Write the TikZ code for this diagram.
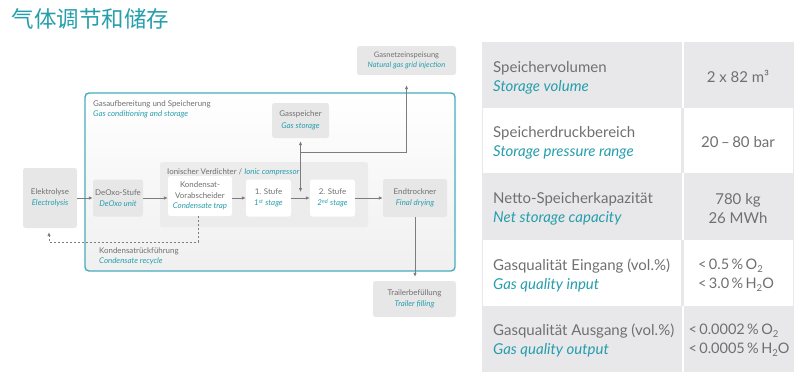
\documentclass[tikz,border=0pt]{standalone}
\usepackage{fontspec}
\setmainfont{Lato}
\newfontfamily\cjk{Noto Sans CJK SC}
\usetikzlibrary{arrows.meta}
\definecolor{tealc}{RGB}{38,158,172}
\definecolor{framec}{RGB}{70,172,188}
\definecolor{txtg}{RGB}{112,112,112}
\definecolor{boxg}{RGB}{231,231,232}
\definecolor{grpg}{RGB}{236,236,237}
\definecolor{tabg}{RGB}{232,232,234}
\definecolor{arrg}{RGB}{125,125,125}
\newcommand{\en}[1]{{\color{tealc}\itshape #1}}
\newcommand{\mysub}[1]{\raisebox{-0.22em}{\fontsize{9.5}{9.5}\selectfont #1}}
\tikzset{
  diag/.style={font=\fontsize{7.9}{11.5}\selectfont, text=txtg},
  gbox/.style={diag, fill=boxg, rounded corners=2.5pt, inner sep=0pt, align=center},
  wbox/.style={diag, fill=white, rounded corners=2.5pt, inner sep=0pt, align=center},
  conn/.style={draw=arrg, line width=0.9pt},
  arr/.style={conn, -{Latex[length=4pt,width=3.6pt]}},
  dotarr/.style={draw=arrg, line width=1pt, dash pattern=on 2pt off 2pt, -{Latex[length=4pt,width=3.6pt]}},
  tabtxt/.style={font=\fontsize{15}{19}\selectfont, text=txtg, align=left, inner sep=0pt},
  valtxt/.style={font=\fontsize{15}{19}\selectfont, text=txtg, align=center, inner sep=0pt},
  vallft/.style={font=\fontsize{14.5}{19}\selectfont, text=txtg, align=left, inner sep=0pt}
}
\begin{document}
\begin{tikzpicture}[x=1pt,y=-1pt]
\useasboundingbox (0,0) rectangle (800,376);
% title
\node[anchor=west, inner sep=0pt, text=tealc, font=\cjk\fontsize{22.5}{24}\selectfont] (title) at (11.5,19) {气体调节和储存};

% big frame
\shade[top color=white, bottom color=black!6, rounded corners=4pt] (85,93) rectangle (455,271);
\draw[framec, line width=1.4pt, rounded corners=4pt] (85,93) rectangle (455,271);
\node[diag, anchor=west, align=left, inner sep=0pt, font=\fontsize{7.9}{9.5}\selectfont] (ftitle) at (93,109.5) {Gasaufbereitung und Speicherung\\\en{Gas conditioning and storage}};

% compressor group
\node[fill=grpg, rounded corners=2.5pt, minimum width=208pt, minimum height=65pt, inner sep=0pt] (comp) at (264,194.5) {};
\node[diag, anchor=west, inner sep=0pt] (complabel) at (167,172) {Ionischer Verdichter / \en{Ionic compressor}};

% boxes
\node[gbox, minimum width=54pt, minimum height=60pt] (elek) at (50,198) {Elektrolyse\\\en{Electrolysis}};
\node[gbox, minimum width=50pt, minimum height=37pt] (deoxo) at (118,198) {DeOxo-Stufe\\\en{DeOxo unit}};
\node[wbox, minimum width=64pt, minimum height=40pt, font=\fontsize{7.9}{10.5}\selectfont] (kond) at (200,196) {Kondensat-\\Vorabscheider\\\en{Condensate trap}};
\node[wbox, minimum width=45pt, minimum height=37pt] (s1) at (268.5,198) {1. Stufe\\\en{1\textsuperscript{st} stage}};
\node[wbox, minimum width=45pt, minimum height=37pt] (s2) at (332.5,198) {2. Stufe\\\en{2\textsuperscript{nd} stage}};
\node[gbox, minimum width=64pt, minimum height=38pt] (endt) at (415,198) {Endtrockner\\\en{Final drying}};
\node[gbox, minimum width=57pt, minimum height=35pt] (gassp) at (300.5,120.5) {Gasspeicher\\\en{Gas storage}};
\node[gbox, minimum width=99pt, minimum height=29pt, font=\fontsize{7.5}{10}\selectfont] (netz) at (406.5,60.5) {Gasnetzeinspeisung\\\en{Natural gas grid injection}};
\node[gbox, minimum width=83pt, minimum height=36pt] (trailer) at (414.5,299) {Trailerbefüllung\\\en{Trailer filling}};

% recycle label
\node[diag, anchor=west, align=left, inner sep=0pt, font=\fontsize{7.9}{10}\selectfont] (reclabel) at (99,256) {Kondensatrückführung\\\en{Condensate recycle}};

% connectors
\draw[arr] (elek.east) -- (deoxo.west);
\draw[arr] (deoxo.east) -- (kond.west |- deoxo.east);
\draw[arr] (kond.east |- s1.west) -- (s1.west);
\draw[arr] (s1.east) -- (s2.west);
\draw[arr] (s2.east) -- (endt.west);
\coordinate (j) at (300.5,152.5);
\draw[arr, shorten >=3pt] (j) -- (gassp.south);
\draw[arr, shorten >=6pt] (j) -- (j |- s1.east);
\draw[arr, shorten >=10pt] (j) -| (netz.south);
\draw[arr, shorten >=4pt] (endt.south) -- (endt.south |- trailer.north);
\coordinate (d1) at (198,242);
\coordinate (d2) at (49,242);
\draw[dotarr, shorten >=4pt] (kond.south -| d1) -- (d1) -- (d2) -- (d2 |- elek.south);

% table
\fill[tabg] (482,42) rectangle (794,372);
\fill[white] (483,108) rectangle (681,173);
\fill[white] (684,108) rectangle (793,173);
\fill[white] (483,240) rectangle (681,306);
\fill[white] (684,240) rectangle (793,306);
\fill[white] (681.5,42) rectangle (683.5,108);
\fill[white] (681.5,173) rectangle (683.5,240);
\fill[white] (681.5,306) rectangle (683.5,372);

\node[tabtxt, anchor=west] (t1) at (493,77.5) {Speichervolumen\\\en{Storage volume}};
\node[tabtxt, anchor=west] (t2) at (493,142.5) {Speicherdruckbereich\\\en{Storage pressure range}};
\node[tabtxt, anchor=west] (t3) at (493,208.5) {Netto-Speicherkapazität\\\en{Net storage capacity}};
\node[tabtxt, anchor=west] (t4) at (493,275) {Gasqualität Eingang (vol.\%)\\\en{Gas quality input}};
\node[tabtxt, anchor=west] (t5) at (493,340) {Gasqualität Ausgang (vol.\%)\\\en{Gas quality output}};

\node[valtxt] (v1) at (738,76) {2 x 82 m³};
\node[valtxt] (v2) at (738,142) {20\,–\,80 bar};
\node[valtxt] (v3) at (738,208.5) {780 kg\\26 MWh};
\node[vallft] (v4) at (736,275) {<\,0.5\,\%\,O\mysub{2}\\<\,3.0\,\%\,H\mysub{2}O};
\node[vallft] (v5) at (739,340) {<\,0.0002\,\%\,O\mysub{2}\\<\,0.0005\,\%\,H\mysub{2}O};
\end{tikzpicture}
\end{document}
